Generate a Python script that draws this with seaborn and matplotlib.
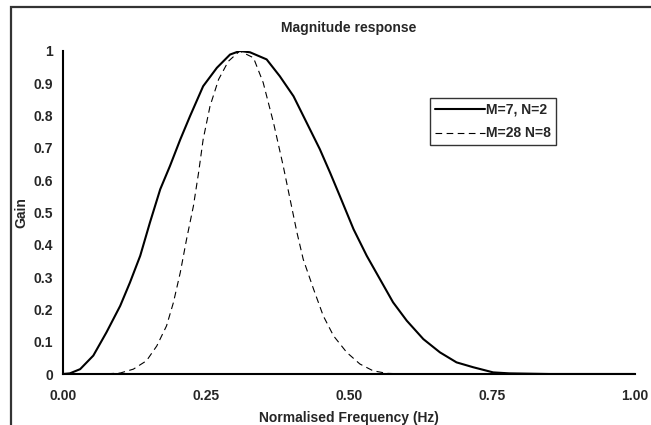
import numpy as np
import pandas as pd
import matplotlib
matplotlib.use("Agg")
import matplotlib.pyplot as plt
from matplotlib.patches import Rectangle
import seaborn as sns

# ---- data ----
freq_a = [0.0, 0.012, 0.030, 0.053, 0.076, 0.100, 0.117, 0.135, 0.152, 0.170,
          0.187, 0.205, 0.222, 0.245, 0.269, 0.292, 0.309, 0.327, 0.356, 0.379,
          0.403, 0.426, 0.449, 0.467, 0.484, 0.508, 0.531, 0.554, 0.577, 0.601,
          0.630, 0.659, 0.688, 0.717, 0.752, 0.780, 0.850, 1.0]
gain_a = [0.0, 0.002, 0.015, 0.057, 0.129, 0.211, 0.283, 0.366, 0.469, 0.572,
          0.644, 0.726, 0.798, 0.891, 0.948, 0.989, 1.0, 0.996, 0.974, 0.922,
          0.860, 0.778, 0.696, 0.623, 0.551, 0.448, 0.366, 0.294, 0.222, 0.165,
          0.108, 0.067, 0.036, 0.021, 0.005, 0.002, 0.0, 0.0]

freq_b = [0.0, 0.080, 0.100, 0.123, 0.146, 0.164, 0.181, 0.193, 0.205, 0.216,
          0.228, 0.237, 0.245, 0.257, 0.272, 0.289, 0.309, 0.333, 0.350, 0.368,
          0.385, 0.397, 0.409, 0.420, 0.438, 0.455, 0.473, 0.496, 0.519, 0.542,
          0.566, 0.600, 1.0]
gain_b = [0.0, 0.001, 0.003, 0.015, 0.041, 0.087, 0.149, 0.221, 0.314, 0.417,
          0.520, 0.623, 0.726, 0.829, 0.912, 0.968, 1.0, 0.979, 0.902, 0.778,
          0.644, 0.541, 0.438, 0.355, 0.263, 0.180, 0.118, 0.067, 0.031, 0.010,
          0.002, 0.0, 0.0]

label_a = "M=7, N=2"
label_b = "M=28 N=8"

x_ticks = [0.0, 0.25, 0.5, 0.75, 1.0]
x_tick_labels = ["0.00", "0.25", "0.50", "0.75", "1.00"]
y_ticks = [0, 0.1, 0.2, 0.3, 0.4, 0.5, 0.6, 0.7, 0.8, 0.9, 1]
y_tick_labels = ["0", "0.1", "0.2", "0.3", "0.4", "0.5", "0.6", "0.7", "0.8", "0.9", "1"]

df_a = pd.DataFrame({"freq": freq_a, "gain": gain_a})
df_b = pd.DataFrame({"freq": freq_b, "gain": gain_b})

# ---- style ----
sns.set_style("white")
plt.rcParams["font.family"] = ["Liberation Sans", "DejaVu Sans"]
plt.rcParams["font.weight"] = "bold"

fig = plt.figure(figsize=(6.51, 4.25), dpi=100)
ax = fig.add_axes([63 / 651, 1 - 374 / 425, 572 / 651, 323 / 425])

sns.lineplot(data=df_a, x="freq", y="gain", ax=ax, color="black",
             linewidth=1.5, label=label_a)
sns.lineplot(data=df_b, x="freq", y="gain", ax=ax, color="black",
             linewidth=0.8, linestyle=(0, (6, 4)), label=label_b)

ax.set_xlim(0, 1)
ax.set_ylim(0, 1)
ax.set_xticks(x_ticks)
ax.set_xticklabels(x_tick_labels, fontsize=10, fontweight="bold")
ax.set_yticks(y_ticks)
ax.set_yticklabels(y_tick_labels, fontsize=10, fontweight="bold")
ax.tick_params(axis="x", length=0, pad=11)
ax.tick_params(axis="y", length=4, width=1, direction="out", color="black", pad=3)

for side in ["top", "right"]:
    ax.spines[side].set_visible(False)
for side in ["left", "bottom"]:
    ax.spines[side].set_color("black")
    ax.spines[side].set_linewidth(1.5)

ax.set_xlabel("Normalised Frequency (Hz)", fontsize=10, fontweight="bold", labelpad=5.5)
ax.set_ylabel("Gain", fontsize=10, fontweight="bold", labelpad=4)
ax.set_title("Magnitude response", fontsize=10, fontweight="bold", pad=14)

# legend with Excel look: square box, long line samples
leg = ax.legend(loc="upper left", bbox_to_anchor=(0.642, 0.855), frameon=True,
                fancybox=False, edgecolor="black", fontsize=10,
                handlelength=3.6, handletextpad=0.1, borderpad=0.35,
                labelspacing=0.7, borderaxespad=0)
leg.get_frame().set_linewidth(1.0)
for t in leg.get_texts():
    t.set_fontweight("bold")

# outer chart frame (left/top edges visible, right/bottom cut off)
fig.patches.append(Rectangle((11 / 651, -0.05), 1.0, 1 - 7 / 425 + 0.05,
                             transform=fig.transFigure, fill=False,
                             edgecolor="#333333", linewidth=1.6))

fig.savefig("out.png", dpi=100)
